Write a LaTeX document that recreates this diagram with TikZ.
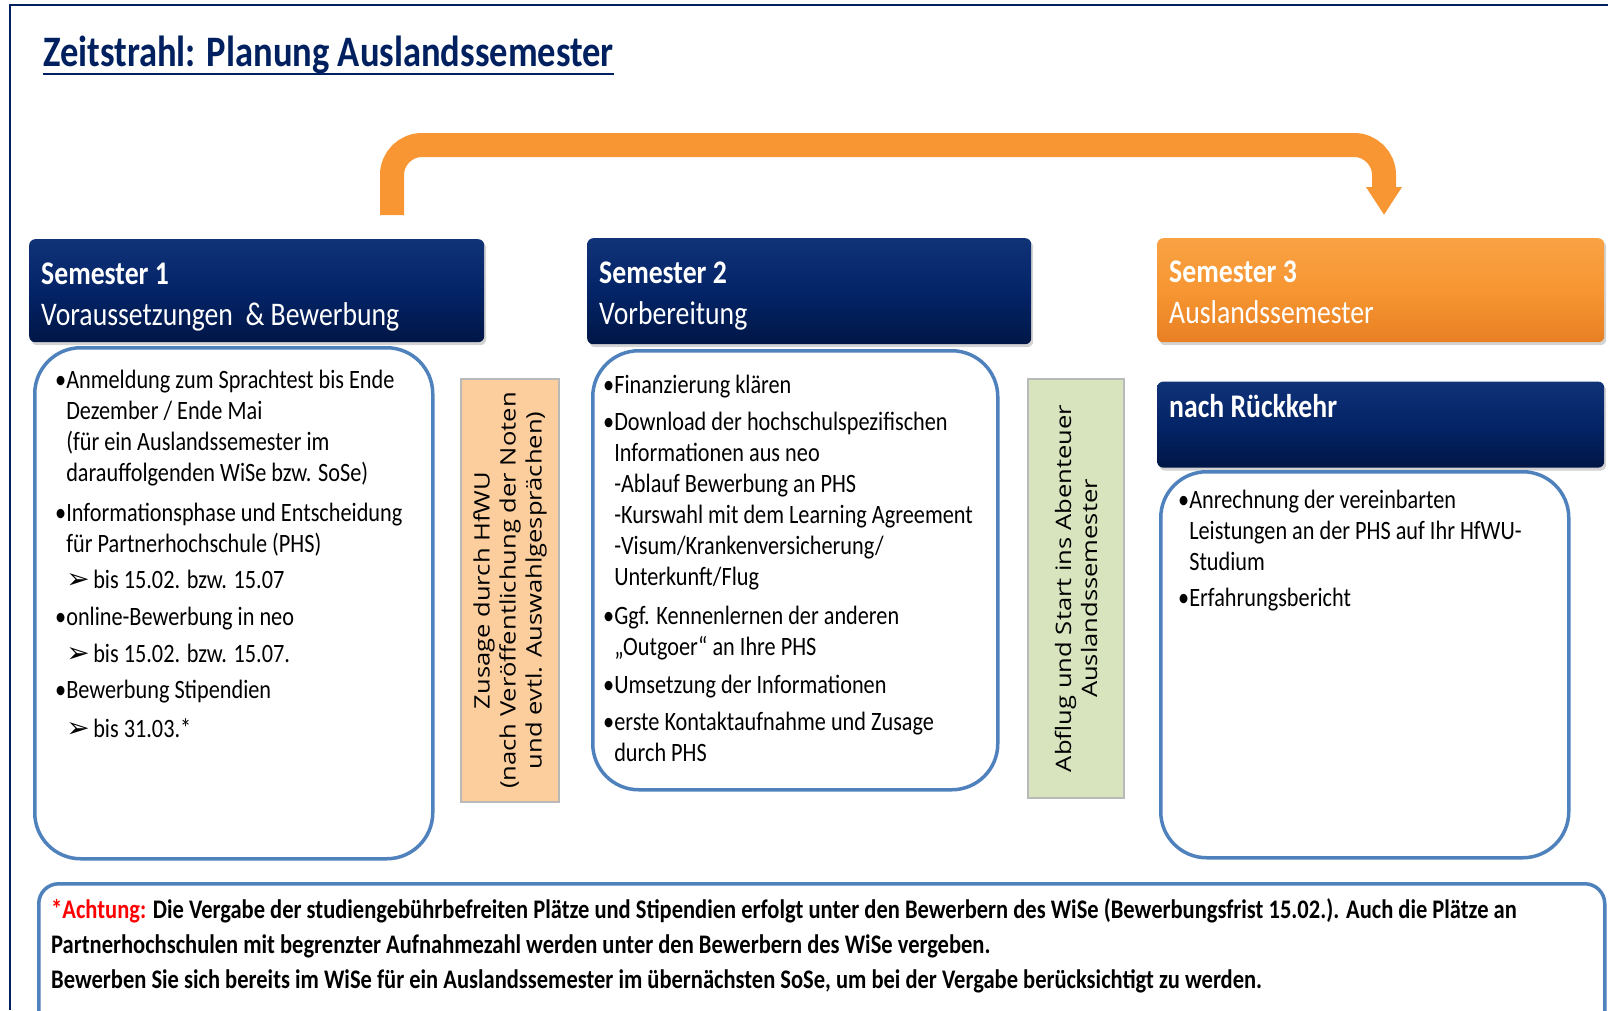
\documentclass[tikz,border=0pt]{standalone}
\usepackage{fontspec}
\setmainfont{Carlito}[FakeStretch=0.84]
\newfontfamily\sidefont{Open Sans}[FakeStretch=1.2]
\newfontfamily\symfont{DejaVu Sans}
\usetikzlibrary{positioning,shadows,arrows.meta}

\definecolor{navy}{RGB}{4,36,104}
\definecolor{navyhi}{RGB}{16,50,118}
\definecolor{navylo}{RGB}{0,22,70}
\definecolor{titleblue}{RGB}{0,32,96}
\definecolor{orangehi}{RGB}{249,162,68}
\definecolor{orangemid}{RGB}{247,150,50}
\definecolor{orangelo}{RGB}{232,128,35}
\definecolor{boxblue}{RGB}{79,129,189}
\definecolor{peach}{RGB}{252,206,158}
\definecolor{lightgreen}{RGB}{216,228,190}

\newcommand\arrowbul{\makebox[27pt][l]{\symfont\fontsize{28}{28}\selectfont ➢}}
\newcommand\ind{\hphantom{•}}

\begin{document}
\begin{tikzpicture}[x=1pt,y=-1pt,
  hdr/.style={anchor=north west, inner sep=0pt, rounded corners=6pt,
    top color=navyhi, bottom color=navylo, middle color=navy,
    drop shadow={shadow xshift=2pt, shadow yshift=-3pt, opacity=.35}},
  hdrorange/.style={hdr, top color=orangehi, bottom color=orangelo, middle color=orangemid},
  hdrtxt/.style={anchor=north west, inner sep=0pt, align=left, text=white,
    font=\fontsize{33}{41}\selectfont},
  bodybox/.style={anchor=north west, draw=boxblue, line width=3.5pt, fill=white, rounded corners=46pt},
  bodytxt/.style={anchor=north west, inner sep=0pt, align=left, font=\fontsize{26.5}{31}\selectfont},
  notetxt/.style={anchor=north west, inner sep=0pt, align=left, font=\bfseries\fontsize{26.8}{35}\selectfont},
  sidebox/.style={draw=gray!55, line width=1.5pt, rotate=90, align=center, inner sep=0pt,
    font=\sidefont\fontsize{21.3}{26}\selectfont},
  bigarrow/.style={orangemid, line width=24pt, rounded corners=30pt, -{Triangle[width=34pt,length=28pt]}}
]
\useasboundingbox (0,0) rectangle (1608,1010);
\clip (0,0) rectangle (1608,1010);
\draw[titleblue, line width=2pt] (10,1010) -- (10,5) -- (1608,5);

% title
\node[anchor=base west, inner sep=0pt, text=titleblue, font=\bfseries\fontsize{43.5}{50}\selectfont]
  (title) at (43,66) {Zeitstrahl: Planung Auslandssemester};
\draw[titleblue, line width=2.5pt] ([yshift=-8pt]title.base west) -- ([yshift=-8pt]title.base east);

% semester heads
\node[hdr, minimum width=455pt, minimum height=103pt] (sem1) at (29,239) {};
\node[hdr, minimum width=444pt, minimum height=106pt] (sem2) at (587,238) {};
\node[hdrorange, minimum width=447pt, minimum height=104pt] (sem3) at (1157,238) {};
\node[hdr, minimum width=447pt, minimum height=86pt, below=39pt of sem3.south west, anchor=north west] (rueck) {};

\node[hdrtxt] (sem1txt) at (41,256) {\strut\textbf{Semester 1}\\Voraussetzungen\ \ \& Bewerbung};
\node[hdrtxt] (sem2txt) at (599,255) {\strut\textbf{Semester 2}\\Vorbereitung};
\node[hdrtxt] (sem3txt) at (1169,254) {\strut\textbf{Semester 3}\\Auslandssemester};
\node[hdrtxt] (ruecktxt) at (1169,389) {\strut\textbf{nach Rückkehr}};

% arrow from semester 1 to semester 3
\coordinate (arrstart) at (392,215);
\coordinate (arrend) at (1384,215);
\draw[bigarrow] (arrstart) -- ++(0,-70) -| (arrend);

% content boxes
\node[bodybox, minimum width=398pt, minimum height=511pt] (body1) at (33,346) {};
\node[bodybox, minimum width=405pt, minimum height=439pt] (body2) at (591,349) {};
\node[bodybox, minimum width=408pt, minimum height=386pt] (body3) at (1159,470) {};

\node[bodytxt] (list1) at (55,366.3) {\strut•Anmeldung zum Sprachtest bis Ende\\
  \ind Dezember / Ende Mai\\
  \ind(für ein Auslandssemester im\\
  \ind darauffolgenden WiSe bzw. SoSe)\\[9pt]
  •Informationsphase und Entscheidung\\
  \ind für Partnerhochschule (PHS)\\[5pt]
  \ind\arrowbul bis 15.02. bzw. 15.07\\[6pt]
  •online-Bewerbung in neo\\[6pt]
  \ind\arrowbul bis 15.02. bzw. 15.07.\\[5pt]
  •Bewerbung Stipendien\\[8pt]
  \ind\arrowbul bis 31.03.*};

\node[bodytxt] (list2) at (603,371.3) {\strut•Finanzierung klären\\[6pt]
  •Download der hochschulspezifischen\\
  \ind Informationen aus neo\\
  \ind-Ablauf Bewerbung an PHS\\
  \ind-Kurswahl mit dem Learning Agreement\\
  \ind-Visum/Krankenversicherung/\\
  \ind Unterkunft/Flug\\[8pt]
  •Ggf. Kennenlernen der anderen\\
  \ind„Outgoer“ an Ihre PHS\\[7pt]
  •Umsetzung der Informationen\\[6pt]
  •erste Kontaktaufnahme und Zusage\\
  \ind durch PHS};

\node[bodytxt] (list3) at (1178,486.3) {\strut•Anrechnung der vereinbarten\\
  \ind Leistungen an der PHS auf Ihr HfWU-\\
  \ind Studium\\[5pt]
  •Erfahrungsbericht};

% milestones between semesters
\node[sidebox, fill=peach, minimum width=423pt, minimum height=98pt] (zusage) at (510,590.5)
  {Zusage durch HfWU\\(nach Veröffentlichung der Noten\\und evtl. Auswahlgesprächen)};
\node[sidebox, fill=lightgreen, minimum width=419pt, minimum height=96pt] (abflug) at (1076,588.5)
  {Abflug und Start ins Abenteuer\\Auslandssemester};

% note
\node[bodybox, rounded corners=20pt, minimum width=1566pt, minimum height=160pt] (note) at (37,882) {};
\node[notetxt] (notetext) at (51,893.5) {\strut{\color{red}*Achtung:} Die Vergabe der studiengebührbefreiten Plätze und Stipendien erfolgt unter den Bewerbern des WiSe (Bewerbungsfrist 15.02.). Auch die Plätze an\\
  Partnerhochschulen mit begrenzter Aufnahmezahl werden unter den Bewerbern des WiSe vergeben.\\
  Bewerben Sie sich bereits im WiSe für ein Auslandssemester im übernächsten SoSe, um bei der Vergabe berücksichtigt zu werden.};
\end{tikzpicture}
\end{document}
